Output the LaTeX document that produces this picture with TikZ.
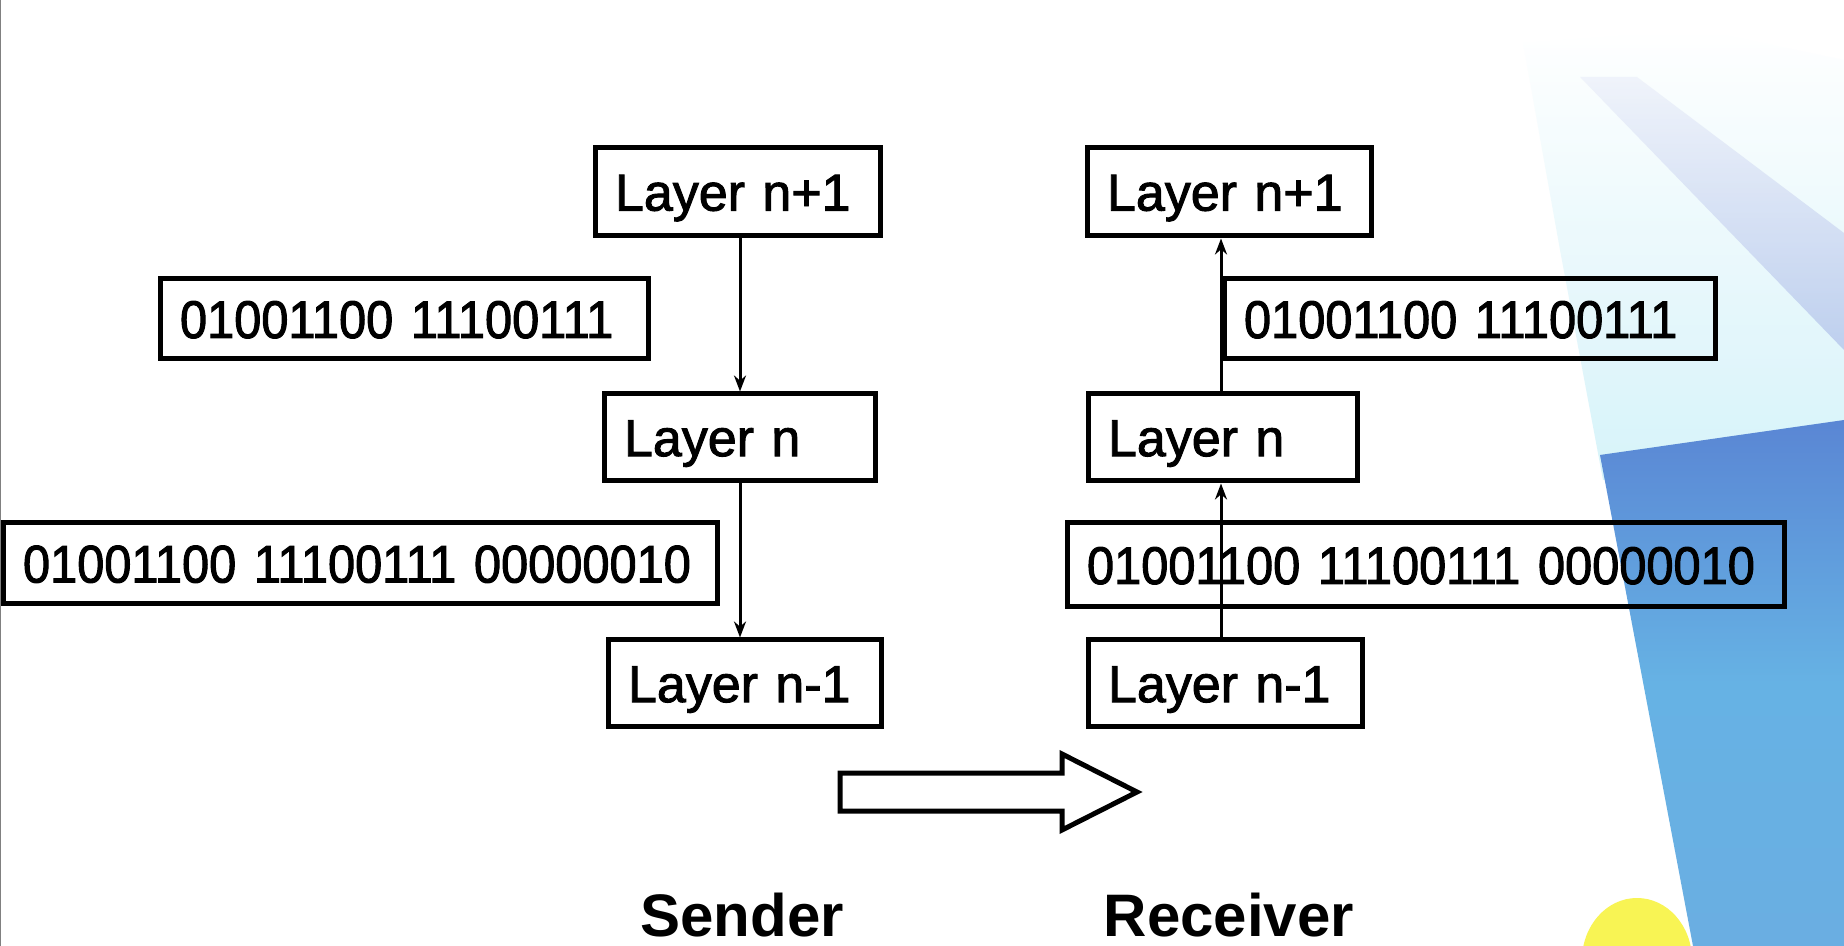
\documentclass[tikz,border=0pt]{standalone}
\usepackage{fontspec}
\setmainfont{Liberation Sans}
\newfontfamily\layerfont[FakeBold=1.8]{Liberation Sans}
\newfontfamily\bitsfont[FakeStretch=0.92,FakeBold=1.8]{Liberation Sans}
\usetikzlibrary{arrows.meta}
\definecolor{haze}{HTML}{D2F2F9}
\definecolor{band}{HTML}{A6B6E6}
\definecolor{deepblue}{HTML}{5A86D4}
\definecolor{midblue}{HTML}{66B2E4}
\definecolor{lightblue}{HTML}{6AAEE2}
\definecolor{sunyellow}{HTML}{F8F454}
\begin{document}
\begin{tikzpicture}[x=0.5pt,y=-0.5pt,
  layerbox/.style={draw=black, line width=2.5pt, rectangle, inner xsep=10pt, inner ysep=0pt,
    text height=18.6pt, text depth=0pt, align=left, font=\layerfont\fontsize{26}{30}\selectfont},
  bitsbox/.style={draw=black, line width=2.5pt, rectangle, inner xsep=10pt, inner ysep=0pt,
    text height=19pt, text depth=0pt, align=left, font=\bitsfont\fontsize{26.5}{30}\selectfont},
  flow/.style={line width=1.5pt, -{Stealth[length=8pt,width=6pt]}},
  caption/.style={font=\fontsize{30}{34}\selectfont\bfseries, anchor=base, inner sep=0pt}
]
\fill[white] (0,0) rectangle (1844,946);
\useasboundingbox (0,0) rectangle (1844,946);
% background decoration
\shade[top color=white, bottom color=haze, opacity=0.9]
  (1523,43) -- (1700,30) -- (1844,60) -- (1844,480) -- (1603,480) -- (1560,250) -- cycle;
\shade[top color=band!25, bottom color=band, opacity=0.6]
  (1580,77) -- (1637,77) -- (1844,233) -- (1844,350) -- cycle;
\fill[sunyellow] (1637,960) ellipse [x radius=55, y radius=62];
\shade[top color=deepblue, bottom color=lightblue, middle color=midblue]
  (1600,455) -- (1844,420) -- (1844,946) -- (1693,946) -- cycle;
\draw[gray, line width=0.6pt] (0.6,0) -- (0.6,946);

% sender
\node[layerbox, text width=122.5pt, minimum height=44pt] (sn1) at (737.5,192) {Layer n+1};
\node[layerbox, text width=115.5pt, minimum height=43.5pt] (sn) at (739.5,437.5) {Layer n};
\node[layerbox, text width=116.5pt, minimum height=43.5pt] (snm1) at (744.5,683.5) {Layer n-1};
\node[bitsbox, text width=224pt, minimum height=40pt] (sd1) at (404,319) {01001100 11100111};
\node[bitsbox, text width=337pt, minimum height=40.5pt] (sd2) at (360,563.5) {01001100 11100111 00000010};

% receiver
\node[layerbox, text width=122pt, minimum height=44pt] (rn1) at (1229,192) {Layer n+1};
\node[layerbox, text width=114.5pt, minimum height=43.5pt] (rn) at (1222.5,437.5) {Layer n};
\node[layerbox, text width=117pt, minimum height=43.5pt] (rnm1) at (1225,683.5) {Layer n-1};
\node[bitsbox, text width=225.5pt, minimum height=40pt] (rd1) at (1469.5,319) {01001100 11100111};
\node[bitsbox, text width=338.5pt, minimum height=42pt] (rd2) at (1425.5,565) {01001100 11100111 00000010};

% connectors
\coordinate (sx) at (740,0);
\coordinate (rx) at (1221,0);
\draw[flow] (sx |- sn1.south) -- (sx |- sn.north);
\draw[flow] (sx |- sn.south) -- (sx |- snm1.north);
\draw[flow] (rx |- rn.north) -- (rx |- rn1.south);
\draw[flow] (rx |- rnm1.north) -- (rx |- rn.south);

% big hollow arrow
\draw[line width=2.5pt, line join=miter] (840,773) -- (1062,773) -- (1062,754) -- (1137,792)
  -- (1062,830) -- (1062,811) -- (840,811) -- cycle;

\node[caption] (sender) at (742,936) {Sender};
\node[caption] (receiver) at (1229,936) {Receiver};
\end{tikzpicture}
\end{document}
